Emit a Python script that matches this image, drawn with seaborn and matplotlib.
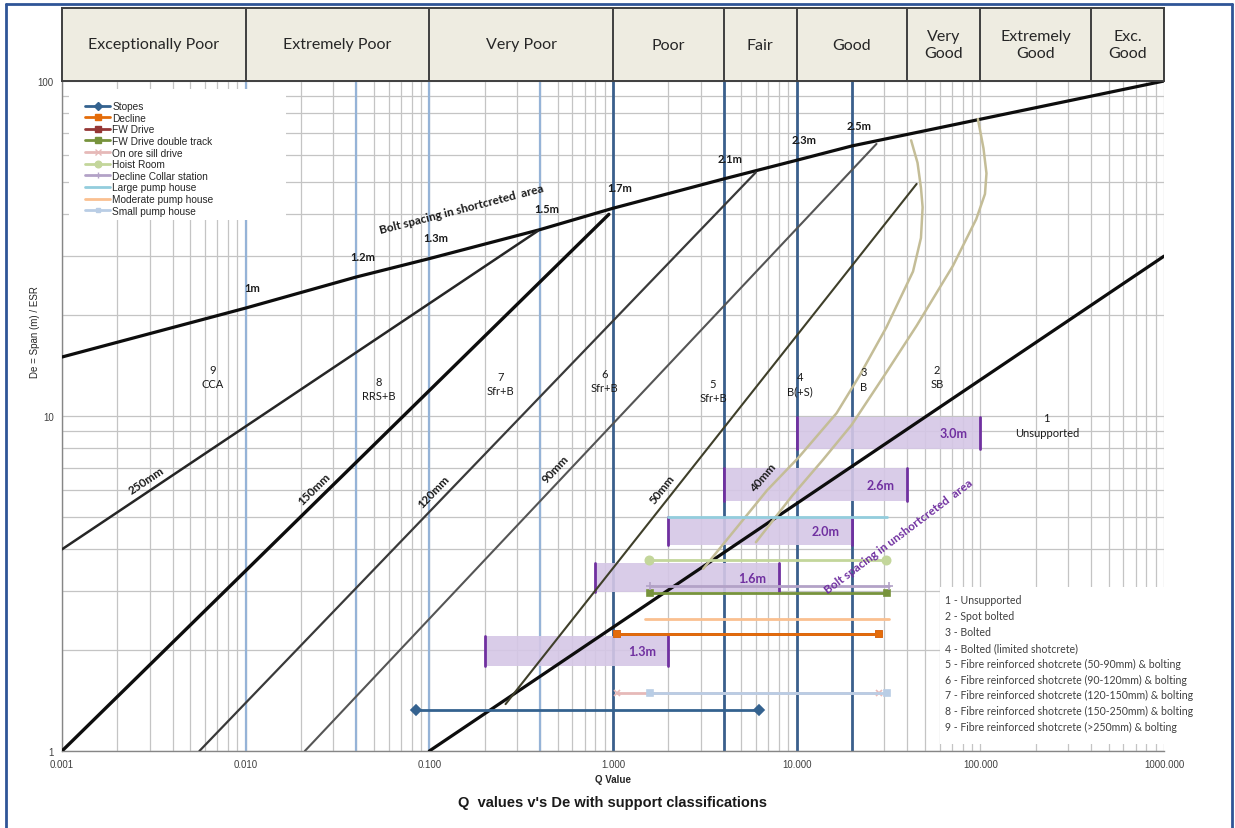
import numpy as np
import pandas as pd
import matplotlib
matplotlib.use("Agg")
import matplotlib.pyplot as plt
from matplotlib.lines import Line2D
from matplotlib.patches import Rectangle
import seaborn as sns

# ---------------------------------------------------------------- data
# Rock mass quality classes along the top of the chart
quality_classes = ["Exceptionally Poor", "Extremely Poor", "Very Poor", "Poor", "Fair",
                   "Good", "Very\nGood", "Extremely\nGood", "Exc.\nGood"]
quality_edges = [0.001, 0.01, 0.1, 1, 4, 10, 40, 100, 400, 1000]

# Bolt spacing in shotcreted area
bolt_sc_q = [0.001, 0.01, 0.04, 0.1, 0.4, 1, 4, 10, 20, 1000]
bolt_sc_de = [15.0, 21.0, 26.0, 29.5, 36.0, 41.7, 51.0, 58.0, 64.0, 100.0]
bolt_sc_labels = ["1m", "1.2m", "1.3m", "1.5m", "1.7m", "2.1m", "2.3m", "2.5m"]
bolt_sc_label_q = [0.01, 0.04, 0.1, 0.4, 1, 4, 10, 20]

# Bolt spacing in unshotcreted area
bolt_un_q = [0.1, 1000]
bolt_un_de = [1.0, 30.0]

# Q reference verticals
light_verticals = [0.01, 0.04, 0.1, 0.4]
dark_verticals = [1, 4, 10, 20]

# Shotcrete thickness lines
shot_labels = ["250mm", "150mm", "120mm", "90mm", "50mm"]
shot_q0 = [0.001, 0.001, 0.0056, 0.021, 0.26]
shot_de0 = [4.0, 1.0, 1.0, 1.0, 1.38]
shot_q1 = [0.39, 0.95, 6.0, 27.2, 45.0]
shot_de1 = [35.7, 40.0, 53.4, 64.9, 49.3]

# Curved 40mm / spot bolting limits
curve40_q = [3.1, 6.9, 10.2, 16.5, 22.0, 30.8, 43.0, 47.5, 48.5, 47.5, 45.5, 42.0]
curve40_de = [3.5, 6.0, 7.5, 10.2, 13.2, 18.4, 27.0, 34.0, 42.0, 48.0, 57.0, 66.5]
curvesb_q = [6.0, 9.5, 13.9, 19.9, 30.8, 45.0, 71.0, 95.0, 106.0, 108.0, 104.0, 97.0]
curvesb_de = [4.2, 5.8, 7.4, 9.4, 13.5, 18.6, 28.1, 38.7, 46.0, 53.0, 63.0, 77.0]

# Excavation series (Q range at a given De)
series_names = ["Stopes", "Decline", "FW Drive", "FW Drive double track", "On ore sill drive",
                "Hoist Room", "Decline Collar station", "Large pump house",
                "Moderate pump house", "Small pump house"]
series_q_min = [0.085, 1.05, 1.05, 1.6, 1.05, 1.57, 1.6, 2.0, 1.5, 1.6]
series_q_max = [6.2, 28.0, 28.0, 31.0, 28.0, 30.6, 32.0, 31.0, 32.0, 31.0]
series_de = [1.33, 2.24, 2.24, 2.96, 1.49, 3.72, 3.11, 5.0, 2.48, 1.49]

# Bolt spacing bands
band_labels = ["1.3m", "1.6m", "2.0m", "2.6m", "3.0m"]
band_q_lo = [0.2, 0.8, 2.0, 4.0, 10.0]
band_q_hi = [2.0, 8.0, 20.0, 40.0, 100.0]
band_de_lo = [1.79, 2.98, 4.13, 5.58, 7.98]
band_de_hi = [2.20, 3.63, 5.00, 6.98, 9.93]

# Support categories
support_nums = ["9", "8", "7", "6", "5", "4", "3", "2", "1"]
support_codes = ["CCA", "RRS+B", "Sfr+B", "Sfr+B", "Sfr+B", "B(+S)", "B", "SB", "Unsupported"]
support_key = ["1 - Unsupported", "2 - Spot bolted", "3 - Bolted",
               "4 - Bolted (limited shotcrete)",
               "5 - Fibre reinforced shotcrete (50-90mm) & bolting",
               "6 - Fibre reinforced shotcrete (90-120mm) & bolting",
               "7 - Fibre reinforced shotcrete (120-150mm) & bolting",
               "8 - Fibre reinforced shotcrete (150-250mm) & bolting",
               "9 - Fibre reinforced shotcrete (>250mm) & bolting"]

# ---------------------------------------------------------------- style
sns.set_theme(style="white")
plt.rcParams["font.family"] = ["Liberation Sans", "DejaVu Sans"]
CAL = ["Lato", "DejaVu Sans"]

series_style = {
    "Stopes": ("#34628F", "D", 5),
    "Decline": ("#E46C0A", "s", 5),
    "FW Drive": ("#953735", "s", 5),
    "FW Drive double track": ("#77933C", "s", 5),
    "On ore sill drive": ("#E6B9B8", "x", 5),
    "Hoist Room": ("#C3D69B", "o", 6),
    "Decline Collar station": ("#B3A2C7", "+", 6),
    "Large pump house": ("#93CDDD", None, 0),
    "Moderate pump house": ("#FAC090", None, 0),
    "Small pump house": ("#B9CDE5", "s", 4),
}
# drawing order: the FW Drive range sits underneath the Decline range
series_z = {"FW Drive": 3.8}

W, H = 1235, 829
fig = plt.figure(figsize=(W / 100, H / 100), dpi=100)
fig.patch.set_facecolor("white")
X0, X1, YT, YB = 62, 1164, 82, 752
ax = fig.add_axes([X0 / W, 1 - YB / H, (X1 - X0) / W, (YB - YT) / H])
hdr = fig.add_axes([X0 / W, 1 - YT / H, (X1 - X0) / W, (YT - 9) / H], sharex=ax)

ax.set_xscale("log")
ax.set_yscale("log")
ax.set_xlim(0.001, 1000)
ax.set_ylim(1, 100)

# grid
ax.grid(True, which="both", color="#C4C4C4", lw=0.9, zorder=0)
ax.set_axisbelow(True)

# ---------------------------------------------------------------- header
hdr.set_ylim(0, 1)
hdr.set_facecolor("#EEECE1")
for lo, hi, name in zip(quality_edges[:-1], quality_edges[1:], quality_classes):
    hdr.axvline(hi, color="#3F3F3F", lw=1.4)
    hdr.text(np.sqrt(lo * hi), 0.5, name, ha="center", va="center", fontsize=11.5,
             family=CAL, color="#262626", linespacing=1.2)
for s in hdr.spines.values():
    s.set_color("#3F3F3F")
    s.set_linewidth(1.4)
hdr.tick_params(which="both", bottom=False, left=False, labelbottom=False, labelleft=False)
hdr.grid(False)

# ---------------------------------------------------------------- verticals
for q in light_verticals:
    ax.axvline(q, color="#95B3D7", lw=1.6, zorder=1)
for q in dark_verticals:
    ax.axvline(q, color="#3A5F8C", lw=2.0, zorder=1)

# ---------------------------------------------------------------- bands
for lab, q0, q1, d0, d1 in zip(band_labels, band_q_lo, band_q_hi, band_de_lo, band_de_hi):
    ax.fill_between([q0, q1], d0, d1, color="#D5C7E6", alpha=0.9, lw=0, zorder=1.5)
    ax.plot([q0, q0], [d0, d1], color="#7030A0", lw=2.0, zorder=1.6)
    ax.plot([q1, q1], [d0, d1], color="#7030A0", lw=2.0, zorder=1.6)
    ax.annotate(lab, xy=(q1, np.sqrt(d0 * d1)), xytext=(-9, 0), textcoords="offset points",
                ha="right", va="center", fontsize=9, fontweight="bold", color="#7030A0",
                family=CAL, zorder=6)

# ---------------------------------------------------------------- structural lines
def draw(qs, ds, color, lw, z=3):
    df = pd.DataFrame({"Q": qs, "De": ds})
    sns.lineplot(data=df, x="Q", y="De", ax=ax, color=color, lw=lw, sort=False,
                 estimator=None, zorder=z, legend=False)

draw(bolt_sc_q, bolt_sc_de, "#0D0D0D", 2.3)
draw(bolt_un_q, bolt_un_de, "#0D0D0D", 2.3)
shot_styles = [("#262626", 1.8), ("#0D0D0D", 2.4), ("#3A3A3A", 1.6), ("#555555", 1.5), ("#3F3F2A", 1.5)]
for q0, d0, q1, d1, (c, lw) in zip(shot_q0, shot_de0, shot_q1, shot_de1, shot_styles):
    draw([q0, q1], [d0, d1], c, lw)
draw(curve40_q, curve40_de, "#C4BD97", 1.8)
draw(curvesb_q, curvesb_de, "#C4BD97", 1.8)

# ---------------------------------------------------------------- excavation series
for name, q0, q1, d in zip(series_names, series_q_min, series_q_max, series_de):
    c, m, ms = series_style[name]
    df = pd.DataFrame({"Q": [q0, q1], "De": [d, d]})
    sns.lineplot(data=df, x="Q", y="De", ax=ax, color=c, lw=2.0, marker=m, markersize=ms,
                 markeredgecolor=c, markeredgewidth=1.2, estimator=None,
                 zorder=series_z.get(name, 4), legend=False)

ax.set_xlabel("")
ax.set_ylabel("")

# ---------------------------------------------------------------- labels along lines
fig.canvas.draw()


def angle_between(p, q):
    a = ax.transData.transform(p)
    b = ax.transData.transform(q)
    return np.degrees(np.arctan2(b[1] - a[1], b[0] - a[0]))


def along(q0, d0, q1, d1, q):
    t = (np.log10(q) - np.log10(q0)) / (np.log10(q1) - np.log10(q0))
    return 10 ** (np.log10(d0) + t * (np.log10(d1) - np.log10(d0)))


def perp(ang, off):
    return (-np.sin(np.radians(ang)) * off, np.cos(np.radians(ang)) * off)


shot_label_at = [0.0031, 0.026, 0.117, 0.54, 2.05]
for lab, q0, d0, q1, d1, ql in zip(shot_labels, shot_q0, shot_de0, shot_q1, shot_de1, shot_label_at):
    ang = angle_between((q0, d0), (q1, d1))
    ax.annotate(lab, xy=(ql, along(q0, d0, q1, d1, ql)), xytext=perp(ang, 8),
                textcoords="offset points", rotation=ang, rotation_mode="anchor",
                ha="center", va="center", fontsize=8.5, fontweight="bold", family=CAL,
                color="#1A1A1A", zorder=6)

# 40mm on the curved line
ang40 = angle_between((curve40_q[0], curve40_de[0]), (curve40_q[2], curve40_de[2]))
ax.annotate("40mm", xy=(7.3, 6.25), xytext=perp(ang40, 8),
            textcoords="offset points", rotation=ang40, rotation_mode="anchor",
            ha="center", va="center", fontsize=8.5, fontweight="bold", family=CAL,
            color="#1A1A1A", zorder=6)

# bolt spacing values along the shotcreted bolt line
for lab, q in zip(bolt_sc_labels, bolt_sc_label_q):
    d = 10 ** np.interp(np.log10(q), np.log10(bolt_sc_q), np.log10(bolt_sc_de))
    ax.annotate(lab, xy=(q, d), xytext=(5, 15), textcoords="offset points",
                ha="center", va="center", fontsize=8, fontweight="bold", family=CAL,
                color="#1A1A1A", zorder=6)

ang_sc = angle_between((0.04, 26.0), (0.4, 36.0))
ax.text(0.15, 41.5, "Bolt spacing in shortcreted  area", rotation=ang_sc, rotation_mode="anchor",
        ha="center", va="center", fontsize=8.5, fontweight="bold", family=CAL, color="#1A1A1A", zorder=6)

ang_un = angle_between((bolt_un_q[0], bolt_un_de[0]), (bolt_un_q[1], bolt_un_de[1]))
ax.text(36, 4.4, "Bolt spacing in unshortcreted  area", rotation=ang_un + 3, rotation_mode="anchor",
        ha="center", va="center", fontsize=8.5, fontweight="bold", family=CAL, color="#7030A0", zorder=6)

# support category labels
support_pos = [(0.0066, 13.1), (0.053, 12.1), (0.245, 12.5), (0.9, 12.8), (3.5, 11.9),
               (10.4, 12.5), (23.2, 12.9), (58, 13.1), (230, 9.4)]
for num, code, (q, d) in zip(support_nums, support_codes, support_pos):
    ax.text(q, d, num + "\n" + code, ha="center", va="center", fontsize=8, family=CAL,
            color="#1A1A1A", linespacing=1.35, zorder=6)

# ---------------------------------------------------------------- legends
handles = []
for name in series_names:
    c, m, ms = series_style[name]
    handles.append(Line2D([], [], color=c, lw=2.0, marker=m, markersize=ms * 0.8,
                          markeredgecolor=c, markeredgewidth=1.0))
ax.add_patch(Rectangle((0.006, 0.792), 0.197, 0.196, transform=ax.transAxes,
                       facecolor="white", edgecolor="none", zorder=4.5))
leg = ax.legend(handles, series_names, loc="upper left", bbox_to_anchor=(0.019, 0.973),
                frameon=False, fontsize=7.3, handlelength=2.5, handletextpad=0.2,
                labelspacing=0.16, borderpad=0.2, borderaxespad=0.0)
leg.set_zorder(6)
for t in leg.get_texts():
    t.set_color("#262626")

# support key box (extends past the plot edge)
ax.add_patch(Rectangle((940, H - 745), 292, 157, transform=None, facecolor="white",
                       edgecolor="none", zorder=4.5, clip_on=False))
for i, line in enumerate(support_key):
    fig.text(945 / W, 1 - (601 + i * 15.8) / H, line, ha="left", va="center",
             fontsize=7.6, family=CAL, color="#404040", zorder=7)

# ---------------------------------------------------------------- axes
decades = [0.001, 0.01, 0.1, 1, 10, 100, 1000]
ax.set_xticks(decades)
ax.set_xticklabels([f"{v:.3f}" for v in decades])
ax.set_yticks([1, 10, 100])
ax.set_yticklabels(["1", "10", "100"])
ax.tick_params(axis="x", which="both", length=0, labelsize=7, colors="#404040", pad=6)
ax.tick_params(axis="y", which="major", length=4, width=0.8, color="#868686", labelsize=7,
               labelcolor="#404040", pad=2)
ax.tick_params(axis="y", which="minor", length=0)
ax.tick_params(axis="x", which="minor", length=0)
for side in ["top", "right"]:
    ax.spines[side].set_visible(False)
for side in ["left", "bottom"]:
    ax.spines[side].set_color("#868686")
    ax.spines[side].set_linewidth(1.0)

fig.text(613 / W, 1 - 780 / H, "Q Value", ha="center", va="center", fontsize=7,
         fontweight="bold", color="#262626")
fig.text(35 / W, 1 - 332 / H, "De = Span (m) / ESR", ha="center", va="center", fontsize=7,
         rotation=90, color="#262626")
fig.text(613 / W, 1 - 803 / H, "Q  values v's De with support classifications", ha="center",
         va="center", fontsize=10.5, fontweight="bold", color="#1A1A1A")

# outer frame
for (xa, ya, xb, yb) in [(6, 5, 6, 829), (6, 5, 1232, 5), (1232, 5, 1232, 829)]:
    fig.add_artist(Line2D([xa / W, xb / W], [1 - ya / H, 1 - yb / H], transform=fig.transFigure,
                          color="#2F5597", lw=2.0))

fig.savefig("out.png", dpi=100)
